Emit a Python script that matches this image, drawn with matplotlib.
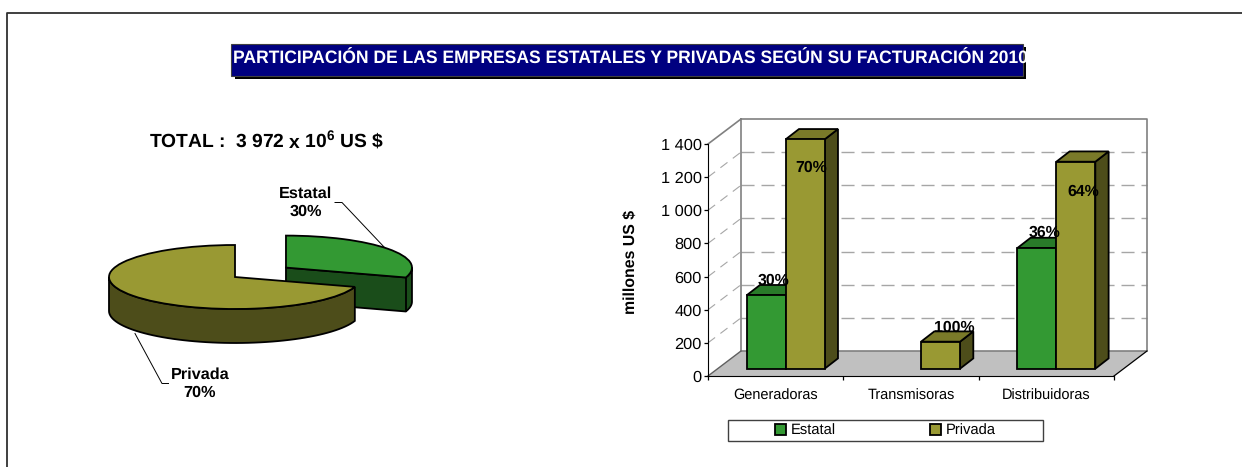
import numpy as np
import matplotlib
matplotlib.use('Agg')
import matplotlib.pyplot as plt
from matplotlib.patches import Polygon, Rectangle

plt.rcParams['font.family'] = ['Liberation Sans', 'DejaVu Sans']
plt.rcParams['mathtext.fontset'] = 'custom'
plt.rcParams['mathtext.bf'] = 'Liberation Sans:bold'
plt.rcParams['text.hinting'] = 'none'

# data
title = 'PARTICIPACIÓN DE LAS EMPRESAS ESTATALES Y PRIVADAS SEGÚN SU FACTURACIÓN 2010'
pie_names = ['Estatal', 'Privada']
pie_shares = [30, 70]
categories = ['Generadoras', 'Transmisoras', 'Distribuidoras']
estatal = [443, 0, 728]
privada = [1384, 163, 1249]
estatal_labels = ['30%', '', '36%']
privada_labels = ['70%', '100%', '64%']
y_ticks = [0, 200, 400, 600, 800, 1000, 1200, 1400]

GREEN = '#339933'
GREEN_DARK = '#1A4D1A'
GREEN_TOP = '#297A29'
OLIVE = '#999933'
OLIVE_DARK = '#4D4D1A'
OLIVE_TOP = '#7A7A29'

W, H = 1242, 467
fig = plt.figure(figsize=(W / 100, H / 100), dpi=100, facecolor='white')


def px_axes(left, top, right, bottom):
    return fig.add_axes([left / W, (H - bottom) / H, (right - left) / W, (bottom - top) / H])


# page frame, title box, texts placed in pixels
bg = fig.add_axes([0, 0, 1, 1])
bg.set_xlim(0, W)
bg.set_ylim(H, 0)
bg.axis('off')
bg.plot([6.5, 6.5, W], [H, 13, 13], color='#303030', lw=1.3)
bg.add_patch(Rectangle((235, 47), 791, 32, fc='black', ec='none'))
bg.add_patch(Rectangle((231, 43.5), 792, 32, fc='#000080', ec='#404040', lw=0.8))
bg.text(630.5, 59.5, title, color='white', fontsize=12.63, fontweight='bold', ha='center', va='center')
bg.text(149, 147.5, r'TOTAL :  3 972 x 10$^{\mathbf{6}}$ US \$', fontsize=13.9, fontweight='bold', ha='left', va='baseline')
bg.text(305.5, 202.5, f'{pie_names[0]}\n{pie_shares[0]}%', fontsize=11.7, fontweight='bold', ha='center', va='center', linespacing=1.25)
bg.text(200, 384, f'{pie_names[1]}\n{pie_shares[1]}%', fontsize=11.7, fontweight='bold', ha='center', va='center', linespacing=1.25)
bg.plot([335, 342, 385], [202.5, 202.5, 248], color='black', lw=0.7)
bg.plot([135, 162, 168.5], [333.5, 383.5, 383.5], color='black', lw=0.7)
bg.add_patch(Rectangle((728, 420), 315, 21, fc='white', ec='#404040', lw=1))

# pie: one x unit = 126 px, one y unit = 32 px
ax_pie = px_axes(235 - 1.1 * 126, 277 - 1.5 * 32, 235 + 1.8 * 126, 277 + 2.2 * 32)
wedges, _ = ax_pie.pie(pie_shares, explode=[0.5, 0], startangle=90, counterclock=False,
                       colors=[GREEN, OLIVE], wedgeprops={'edgecolor': 'black', 'linewidth': 1.3, 'clip_on': False})
ax_pie.set_aspect('auto')
ax_pie.set_xlim(-1.1, 1.8)
ax_pie.set_ylim(-2.2, 1.5)
ax_pie.patch.set_visible(False)
PIE_DEPTH = 34 / 32
cut = 90 - 360 * pie_shares[0] / sum(pie_shares)

# side of the Estatal slice
shift_x = 0.5 * np.cos(np.radians((90 + cut) / 2))
shift_y = 0.5 * np.sin(np.radians((90 + cut) / 2))
rim = np.radians(np.linspace(cut, 0, 20))
top_xy = np.column_stack([np.cos(rim) + shift_x, np.sin(rim) + shift_y])
low_xy = top_xy[::-1] - [0, PIE_DEPTH]
centre = [shift_x, shift_y]
centre_low = [shift_x, shift_y - PIE_DEPTH]
ax_pie.add_patch(Polygon(np.vstack([[centre], top_xy, low_xy, [centre_low]]), fc=GREEN_DARK, ec='black',
                         lw=1.3, zorder=1, clip_on=False))
ax_pie.plot([top_xy[0, 0], top_xy[0, 0]], [top_xy[0, 1], top_xy[0, 1] - PIE_DEPTH], color='black', lw=1.3, zorder=1.5)
wedges[0].set_zorder(2)

# side of the Privada slice
rim = np.radians(np.linspace(cut, -180, 60))
top_xy = np.column_stack([np.cos(rim), np.sin(rim)])
low_xy = top_xy[::-1] - [0, PIE_DEPTH]
ax_pie.add_patch(Polygon(np.vstack([top_xy, low_xy]), fc=OLIVE_DARK, ec='black', lw=1.3, zorder=3, clip_on=False))
wedges[1].set_zorder(4)

# bars
ax = px_axes(708, 144, 1114, 376)
ax.set_xlim(0, 3)
ax.set_ylim(0, 1400)
ax.patch.set_visible(False)
PX_X = 3 / 406
PX_Y = 1400 / 232
WALL_DX, WALL_DY = 33 * PX_X, 25 * PX_Y
BASE_DX, BASE_DY = 10 * PX_X, 7.3 * PX_Y
BAR_DX, BAR_DY = 13.3 * PX_X, 10.3 * PX_Y
BAR_W = 39 * PX_X

ax.add_patch(Polygon([(0, 0), (WALL_DX, WALL_DY), (3 + WALL_DX, WALL_DY), (3, 0)], fc='#C0C0C0', ec='none', zorder=1, clip_on=False))
ax.plot([3, 3 + WALL_DX], [0, WALL_DY], color='black', lw=0.9, zorder=1.2, clip_on=False)
ax.plot([WALL_DX, 3 + WALL_DX, 3 + WALL_DX, WALL_DX, WALL_DX, 0],
        [1400 + WALL_DY, 1400 + WALL_DY, WALL_DY, WALL_DY, 1400 + WALL_DY, 1400],
        color='#808080', lw=1.2, zorder=1.1, clip_on=False)
ax.plot([0, WALL_DX], [0, WALL_DY], color='#606060', lw=1.0, zorder=1.1, clip_on=False)
for v in y_ticks[1:-1]:
    ax.plot([WALL_DX, 3 + WALL_DX], [v + WALL_DY] * 2, color='#A6A6A6', lw=1, dashes=(9.4, 5), zorder=0.9, clip_on=False)
    ax.plot([0, WALL_DX], [v, v + WALL_DY], color='#A6A6A6', lw=0.8, dashes=(8, 6), zorder=0.9, clip_on=False)


def draw_bars(offset, values, front, top, side, name):
    x = np.arange(len(values)) + 0.5 + BASE_DX + offset
    bars = ax.bar(x, values, BAR_W, bottom=BASE_DY, color=front, edgecolor='black', lw=1.3, zorder=4,
                  clip_on=False, label=name)
    for bar, xc, v in zip(bars, x, values):
        if v == 0:
            bar.set_visible(False)
            continue
        x0, x1 = xc - BAR_W / 2, xc + BAR_W / 2
        y0, y1 = BASE_DY, BASE_DY + v
        ax.add_patch(Polygon([(x1, y0), (x1 + BAR_DX, y0 + BAR_DY), (x1 + BAR_DX, y1 + BAR_DY), (x1, y1)],
                             fc=side, ec='black', lw=1.3, zorder=3, clip_on=False))
        ax.add_patch(Polygon([(x0, y1), (x0 + BAR_DX, y1 + BAR_DY), (x1 + BAR_DX, y1 + BAR_DY), (x1, y1)],
                             fc=top, ec='black', lw=1.3, zorder=3, clip_on=False))
    return bars, x


bars_e, x_e = draw_bars(-BAR_W / 2, estatal, GREEN, GREEN_TOP, GREEN_DARK, 'Estatal')
bars_p, x_p = draw_bars(BAR_W / 2, privada, OLIVE, OLIVE_TOP, OLIVE_DARK, 'Privada')

# label nudges in pixels from the top of each bar
estatal_nudge = [(7, 15), None, (8, 15)]
privada_nudge = [(6, -28), (14, 14), (7, -30)]
for xs, vals, labels, nudges in [(x_e, estatal, estatal_labels, estatal_nudge), (x_p, privada, privada_labels, privada_nudge)]:
    for xc, v, lab, nudge in zip(xs, vals, labels, nudges):
        if nudge is None:
            continue
        ax.annotate(lab, (xc, BASE_DY + v), xytext=(nudge[0] * 0.72, nudge[1] * 0.72), textcoords='offset points',
                    ha='center', va='center', fontsize=11.4, fontweight='bold', zorder=6, annotation_clip=False)

ax.spines['top'].set_visible(False)
ax.spines['right'].set_visible(False)
ax.spines['left'].set_zorder(5)
ax.spines['bottom'].set_zorder(1.3)
ax.set_yticks(y_ticks)
ax.set_yticklabels([f'{v:,}'.replace(',', ' ') for v in y_ticks], fontsize=11.8)
ax.tick_params(axis='y', length=3, width=0.9, pad=1.5)
ax.set_xticks([0, 1, 2, 3])
ax.set_xticklabels([])
ax.tick_params(axis='x', which='major', length=3, width=0.9)
ax.set_xticks([0.5, 1.5, 2.5], minor=True)
ax.set_xticklabels(categories, minor=True, fontsize=10.45)
ax.tick_params(axis='x', which='minor', length=0, pad=9)
ax.set_ylabel('millones US $', fontsize=11.4, fontweight='bold')
ax.yaxis.set_label_coords((639 - 708) / 406, (376 - 261.7) / 232)

leg = ax.legend(handles=[bars_e[0], bars_p[0]], labels=['Estatal', 'Privada'], ncols=2, frameon=False,
                loc='center', bbox_to_anchor=(885.5, 430.5), bbox_transform=bg.transData,
                fontsize=10.6, handlelength=0.75, handleheight=0.75, handletextpad=0.3, columnspacing=6.4,
                borderpad=0, borderaxespad=0)

fig.savefig('out.png', dpi=100)
